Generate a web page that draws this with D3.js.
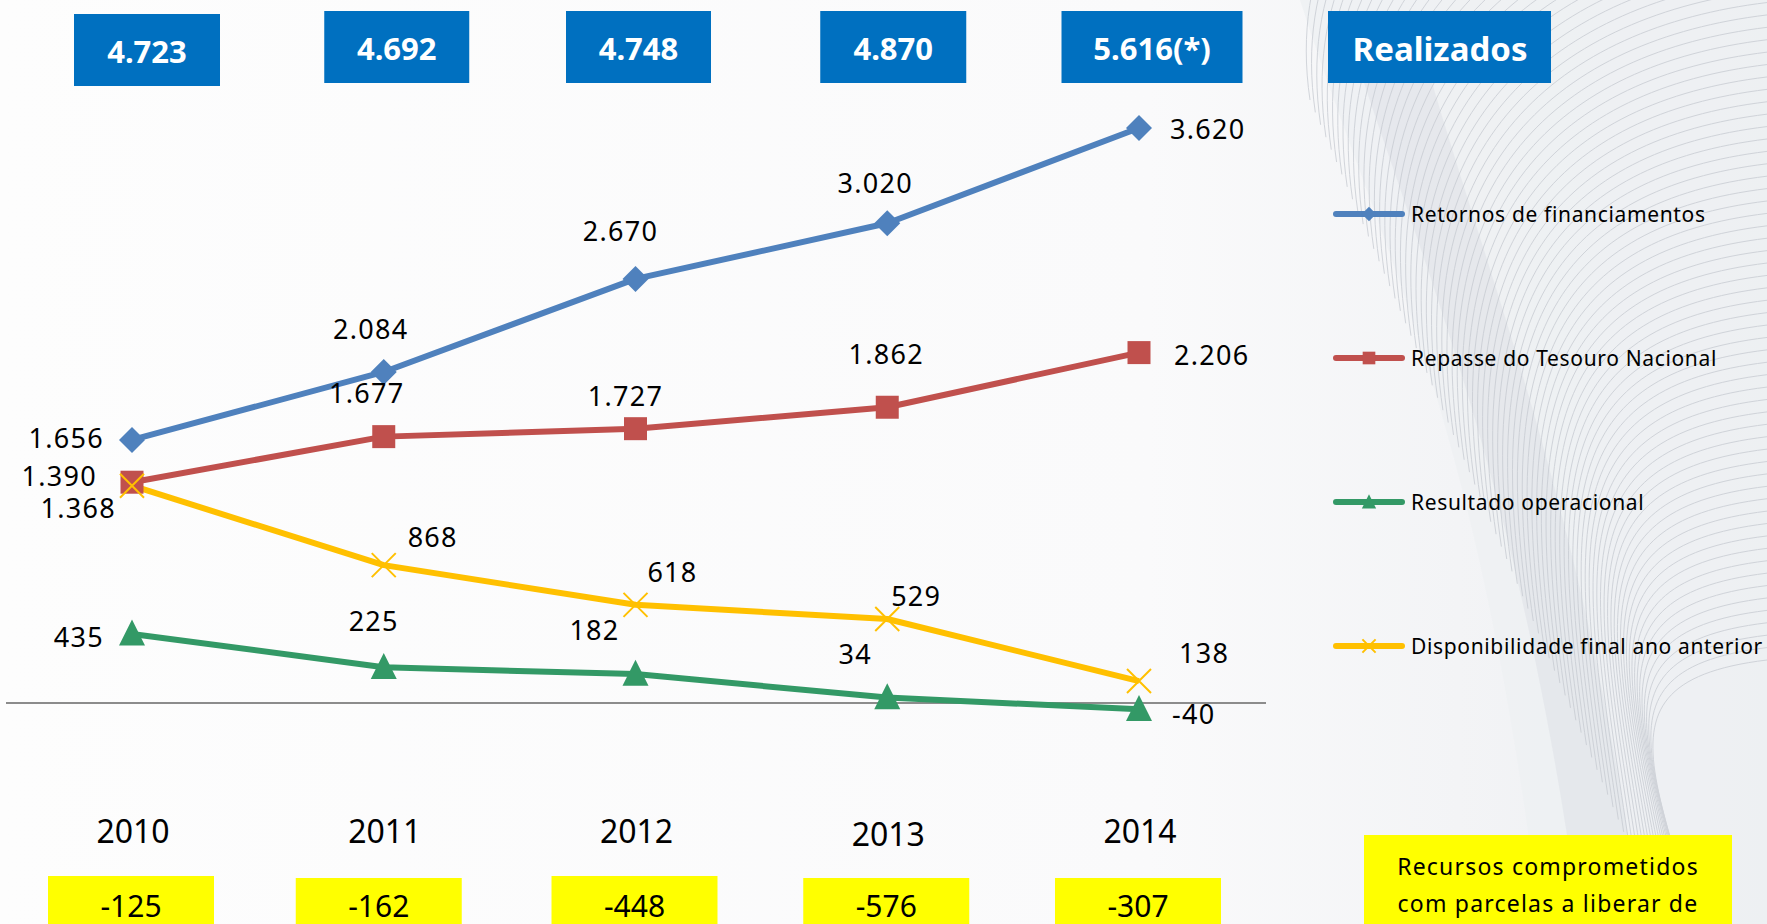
<!DOCTYPE html>
<html>
<head>
<meta charset="utf-8">
<style>
  body { margin: 0; background: #fbfbfc; overflow: hidden; }
  text { font-family: 'Noto Sans', sans-serif; }
</style>
</head>
<body>

<script src="https://d3js.org/d3.v7.min.js"></script>

<script>

// ---- data ----
const years = ['2010', '2011', '2012', '2013', '2014'];
const totals = ['4.723', '4.692', '4.748', '4.870', '5.616(*)'];
const committed = ['-125', '-162', '-448', '-576', '-307'];

const retornos = [1656, 2084, 2670, 3020, 3620];
const repasse = [1390, 1677, 1727, 1862, 2206];
const resultado = [435, 225, 182, 34, -40];
const disponibilidade = [1368, 868, 618, 529, 138];

const seriesNames = [
  'Retornos de financiamentos',
  'Repasse do Tesouro Nacional',
  'Resultado operacional',
  'Disponibilidade final ano anterior'
];

// ---- layout / style ----
const width = 1767;
const height = 924;

const colors = ['#4f81bd', '#c0504d', '#339966', '#ffc000'];
const markers = ['diamond', 'square', 'triangle', 'cross'];

// label offsets [dx, dy, anchor] per point
const labelPlacement = [
  [[-28, -2, 'end'], [-13, -43, 'middle'], [-15, -48, 'middle'], [-12, -41, 'middle'], [31, 0, 'start']],
  [[-35, -7, 'end'], [-17, -44, 'middle'], [-10, -33, 'middle'], [-1, -54, 'middle'], [35, 2, 'start']],
  [[-28, 3, 'end'], [-10, -47, 'middle'], [-41, -45, 'middle'], [-32, -44, 'middle'], [33, 4, 'start']],
  [[-16, 22, 'end'], [49, -29, 'middle'], [37, -33, 'middle'], [29, -23, 'middle'], [40, -29, 'start']]
];

const boxShift = [15, 13, 3, 6, 13];
const boxW = [146, 145, 145, 146, 181];

const fmt = d3.formatLocale({
  decimal: ',', thousands: '.', grouping: [3], currency: ['R$', ''], minus: '-'
}).format(',d');

const svg = d3.select('body')
              .append('svg')
              .attr('width', width)
              .attr('height', height);

// ---- background swoosh ----
const defs = svg.append('defs');
const bgGrad = defs.append('linearGradient')
  .attr('id', 'bg').attr('x1', 0).attr('x2', 1).attr('y1', 0).attr('y2', 0);
bgGrad.append('stop').attr('offset', '0').attr('stop-color', '#fdfdfd');
bgGrad.append('stop').attr('offset', '0.65').attr('stop-color', '#fafafb');
bgGrad.append('stop').attr('offset', '1').attr('stop-color', '#eceef1');
svg.append('rect').attr('width', width).attr('height', height).attr('fill', 'url(#bg)');

svg.append('path')
  .attr('d', 'M1300,0 C1380,250 1480,420 1540,924 L1767,924 L1767,0 Z')
  .attr('fill', '#eef0f3').attr('opacity', 0.8);
svg.append('path')
  .attr('d', 'M1350,40 C1420,260 1520,480 1580,924 L1640,924 C1590,520 1480,260 1420,40 Z')
  .attr('fill', '#dfe2e7').attr('opacity', 0.6);

const waves = svg.append('g').attr('fill', 'none').attr('stroke', '#c6cad1')
  .attr('stroke-width', 1).attr('opacity', 0.75);
d3.range(0, 80).forEach(i => {
  const t = i / 79;
  const yr = -320 + t * 980;
  const xb = 1310 + t * 420;
  waves.append('path')
    .attr('d', `M1767,${yr} C1560,${yr + 25} ${xb - 40},${yr + 150} ${xb},${yr + 420}`);
});

// ---- scales ----
const x = d3.scalePoint().domain(years).range([132, 1139]);
const y = d3.scaleLinear().domain([0, 3620]).range([703, 128]);

// ---- zero line ----
svg.append('line')
  .attr('x1', 6).attr('x2', 1266)
  .attr('y1', y(0)).attr('y2', y(0))
  .attr('stroke', '#8c8c8c').attr('stroke-width', 2);

// ---- marker shapes ----
function markerPath(kind, s) {
  if (kind === 'diamond') return `M0,${-s}L${s},0L0,${s}L${-s},0Z`;
  if (kind === 'square') return `M${-s},${-s}H${s}V${s}H${-s}Z`;
  if (kind === 'triangle') return `M0,${-s * 1.1}L${s},${s * 0.9}L${-s},${s * 0.9}Z`;
  return `M${-s},${-s}L${s},${s}M${-s},${s}L${s},${-s}`;
}

function drawMarker(g, kind, color, s) {
  const p = g.append('path').attr('d', markerPath(kind, s));
  if (kind === 'cross') p.attr('fill', 'none').attr('stroke', color).attr('stroke-width', 2);
  else p.attr('fill', color);
}

const markerSize = { diamond: 13, square: 11.5, triangle: 13, cross: 12 };

// ---- series ----
const allSeries = [retornos, repasse, resultado, disponibilidade];
const line = d3.line().x((d, i) => x(years[i])).y(d => y(d));

allSeries.forEach((vals, si) => {
  svg.append('path')
    .datum(vals)
    .attr('d', line)
    .attr('fill', 'none')
    .attr('stroke', colors[si])
    .attr('stroke-width', 6)
    .attr('stroke-linejoin', 'round');
});

allSeries.forEach((vals, si) => {
  vals.forEach((v, i) => {
    const g = svg.append('g').attr('transform', `translate(${x(years[i])},${y(v)})`);
    drawMarker(g, markers[si], colors[si], markerSize[markers[si]]);
  });
});

allSeries.forEach((vals, si) => {
  vals.forEach((v, i) => {
    const [dx, dy, anchor] = labelPlacement[si][i];
    svg.append('text')
      .attr('x', x(years[i]) + dx)
      .attr('y', y(v) + dy)
      .attr('text-anchor', anchor)
      .attr('dominant-baseline', 'central')
      .attr('font-size', 27)
      .attr('letter-spacing', 1.3)
      .attr('fill', '#000')
      .text(fmt(v));
  });
});

// ---- top blue boxes ----
const topBoxes = svg.append('g');
totals.forEach((t, i) => {
  const cx = x(years[i]) + boxShift[i];
  const y0 = i === 0 ? 14 : 11;
  topBoxes.append('rect')
    .attr('x', cx - boxW[i] / 2).attr('y', y0)
    .attr('width', boxW[i]).attr('height', 72)
    .attr('fill', '#0070c0');
  topBoxes.append('text')
    .attr('x', cx).attr('y', y0 + 37)
    .attr('text-anchor', 'middle').attr('dominant-baseline', 'central')
    .attr('font-family', 'Lato, sans-serif').attr('font-weight', 'bold')
    .attr('font-size', 31).attr('fill', '#fff')
    .text(t);
});
topBoxes.append('rect')
  .attr('x', 1328).attr('y', 11).attr('width', 223).attr('height', 72)
  .attr('fill', '#0070c0');
topBoxes.append('text')
  .attr('x', 1440).attr('y', 48)
  .attr('text-anchor', 'middle').attr('dominant-baseline', 'central')
  .attr('font-family', 'Lato, sans-serif').attr('font-weight', 'bold')
  .attr('font-size', 33).attr('fill', '#fff')
  .text('Realizados');

// ---- year labels ----
years.forEach((yr, i) => {
  svg.append('text')
    .attr('x', x(yr) + 1).attr('y', i === 3 ? 833 : 830)
    .attr('text-anchor', 'middle').attr('dominant-baseline', 'central')
    .attr('font-family', 'Lato, sans-serif')
    .attr('font-size', 32).attr('fill', '#000')
    .text(yr);
});

// ---- yellow boxes ----
committed.forEach((c, i) => {
  const cx = x(years[i]) - (i === 1 ? 5 : 1);
  const y0 = (i === 1 || i === 3 || i === 4) ? 878 : 876;
  svg.append('rect')
    .attr('x', cx - 83).attr('y', y0)
    .attr('width', 166).attr('height', 60)
    .attr('fill', '#ffff00');
  svg.append('text')
    .attr('x', cx).attr('y', 905)
    .attr('text-anchor', 'middle').attr('dominant-baseline', 'central')
    .attr('font-family', 'Lato, sans-serif')
    .attr('font-size', 30).attr('fill', '#000')
    .text(c);
});

svg.append('rect')
  .attr('x', 1364).attr('y', 835).attr('width', 368).attr('height', 100)
  .attr('fill', '#ffff00');
['Recursos comprometidos', 'com parcelas a liberar de'].forEach((s, i) => {
  svg.append('text')
    .attr('x', 1548).attr('y', 866 + i * 37)
    .attr('text-anchor', 'middle').attr('dominant-baseline', 'central')
    .attr('font-size', 23).attr('letter-spacing', 1.2).attr('fill', '#000')
    .text(s);
});

// ---- legend ----
const legend = svg.append('g');
seriesNames.forEach((name, i) => {
  const ly = 214 + i * 144;
  legend.append('line')
    .attr('x1', 1336).attr('x2', 1402).attr('y1', ly).attr('y2', ly)
    .attr('stroke', colors[i]).attr('stroke-width', 6).attr('stroke-linecap', 'round');
  const g = legend.append('g').attr('transform', `translate(1369,${ly})`);
  drawMarker(g, markers[i], colors[i], markerSize[markers[i]] * 0.55);
  legend.append('text')
    .attr('x', 1411).attr('y', ly)
    .attr('dominant-baseline', 'central')
    .attr('font-size', 21).attr('letter-spacing', 0.65).attr('fill', '#000')
    .text(name);
});

</script>
</body>
</html>
